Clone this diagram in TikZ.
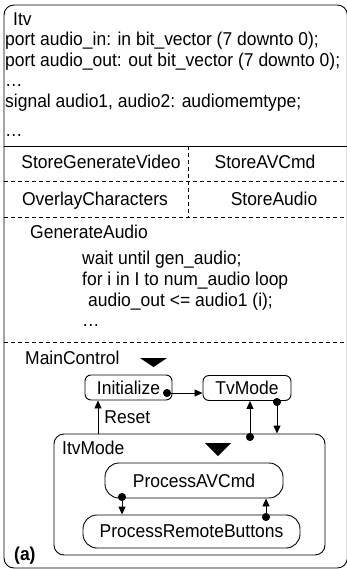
\documentclass[tikz,border=0pt]{standalone}
\usepackage{fontspec}
\setmainfont{Liberation Sans}[FakeStretch=0.94]
\usetikzlibrary{arrows.meta,positioning}

\begin{document}
\begin{tikzpicture}
    [x=1pt, y=-1pt,
    font=\fontsize{18.6}{21}\selectfont,
    txt/.style={anchor=base west, inner sep=0pt},
    cell/.style={anchor=base, inner sep=0pt},
    state/.style={draw, line width=0.9pt, rounded corners=6pt,
    minimum height=25pt, inner sep=0pt},
    sep/.style={line width=0.8pt, dash pattern=on 4pt off 3pt},
    line/.style={draw, line width=0.9pt, {Circle[length=8pt]}-{Triangle[length=8pt,width=7pt]}},
    plain/.style={draw, line width=0.9pt, -{Triangle[length=8pt,width=7pt]}}]

    \useasboundingbox (0,0) rectangle (347,569);

    % outer frame
    \draw[line width=0.9pt, rounded corners=10pt] (4,5) rectangle (347.4,568);

    % declarations
    \node[txt] (itv) at (13,26) {Itv};
    \node[txt] (portin) at (5,46) {port audio\_in: in bit\_vector (7 downto 0);};
    \node[txt] (portout) at (5,67) {port audio\_out: out bit\_vector (7 downto 0);};
    \node[txt] (dotsa) at (5,87) {\dots};
    \node[txt] (sig) at (5,108) {signal audio1, audio2: audiomemtype;};
    \node[txt] (dotsb) at (5,137) {\dots};
    \draw[line width=0.9pt] (4,146) -- (347,146);

    % concurrent processes
    \node[cell] (sgv) at (101,169) {StoreGenerateVideo};
    \node[cell] (savc) at (265,169) {StoreAVCmd};
    \node[cell] (ovl) at (95,205) {OverlayCharacters};
    \node[cell] (sau) at (274,205) {StoreAudio};
    \draw[sep] (4,181) -- (347,181);
    \draw[sep] (4,217) -- (347,217);
    \draw[sep] (188,146) -- (188,217);

    % GenerateAudio
    \node[txt] (genaudio) at (30,238) {GenerateAudio};
    \node[txt] (waitl) at (82,264) {wait until gen\_audio;};
    \node[txt] (forl) at (82,285) {for i in I to num\_audio loop};
    \node[txt] (outl) at (88,306) {audio\_out <= audio1 (i);};
    \node[txt] (dotsc) at (82,326) {\dots};
    \draw[sep] (4,342) -- (347,342);

    % MainControl
    \node[txt] (mainctl) at (25,364) {MainControl};
    \fill (140,358) -- (167,358) -- (153.5,367) -- cycle;
    \node[state, minimum width=87pt] (init) at (128.5,387.5) {Initialize};
    \node[state, minimum width=88pt] (tvmode) at (247,388) {TvMode};
    \node[draw, line width=0.9pt, rounded corners=10pt, minimum width=271pt,
    minimum height=121pt, inner sep=0pt] (itvmode) at (189.5,494.5) {};
    \node[txt] (itvlabel) at (62,454) {ItvMode};
    \fill (205,443) -- (231,443) -- (218,456) -- cycle;
    \node[state, rounded corners=14pt, minimum width=178pt, minimum height=35pt]
    (avcmd) at (194,480.5) {ProcessAVCmd};
    \node[state, rounded corners=14pt, minimum width=217pt, minimum height=33pt]
    (remote) at (191.5,531.5) {ProcessRemoteButtons};

    \coordinate (initdot) at (163,393);
    \coordinate (tvdot) at (277,398);
    \coordinate (itvdot) at (250,441);
    \coordinate (resetpt) at (98,434);
    \coordinate (avdot) at (122,493);
    \coordinate (remdot) at (266,521);

    \path[line] (initdot) -- (initdot -| tvmode.west);
    \path[line] (tvdot) -- (tvdot |- itvmode.north);
    \path[line] (itvdot) -- (itvdot |- tvmode.south);
    \path[plain] (resetpt) -- (resetpt |- init.south)
        node[midway, right=6pt, inner sep=0pt] (reset) {Reset};
    \path[line] (avdot) -- (avdot |- remote.north);
    \path[line] (remdot) -- (remdot |- avcmd.south);

    \node[txt, font=\fontsize{18.6}{21}\selectfont\bfseries] (tag) at (14,560) {(a)};
\end{tikzpicture}
\end{document}
